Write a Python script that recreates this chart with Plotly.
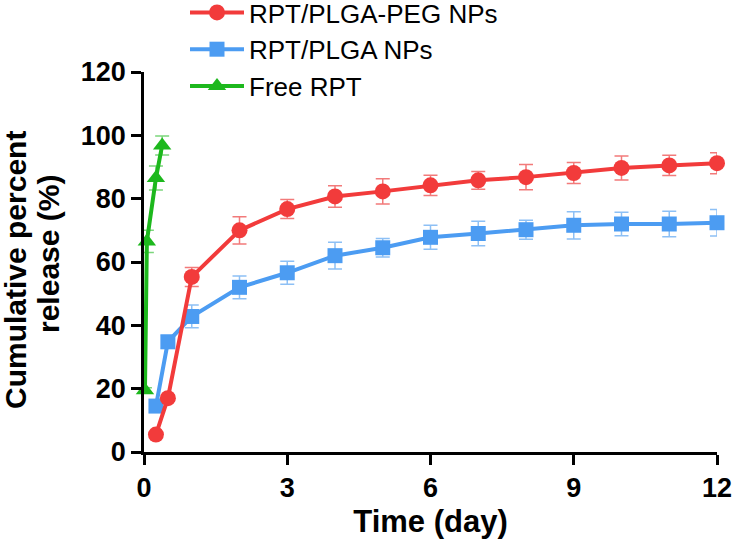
import plotly.graph_objects as go

# Data
t_free = [0.02, 0.06, 0.25, 0.38]
y_free = [19.5, 66.5, 86.5, 96.8]
e_free = [0.8, 3.5, 3.8, 3.0]

t_np = [0.25, 0.5, 1, 2, 3, 4, 5, 6, 7, 8, 9, 10, 11, 12]
y_peg = [5.5, 17.0, 55.3, 70.0, 76.7, 80.7, 82.3, 84.2, 85.8, 86.8, 88.1, 89.7, 90.5, 91.2]
e_peg = [0.8, 1.0, 3.0, 4.3, 3.0, 3.4, 4.0, 3.2, 2.8, 4.0, 3.3, 3.8, 3.2, 3.3]
y_plga = [14.5, 34.8, 42.8, 52.0, 56.6, 62.0, 64.5, 67.8, 69.0, 70.2, 71.6, 72.0, 72.0, 72.4]
e_plga = [1.0, 2.0, 3.6, 3.6, 3.6, 4.2, 2.9, 3.8, 3.9, 3.0, 4.3, 3.7, 4.0, 4.2]

x_ticks = [0, 3, 6, 9, 12]
y_ticks = [0, 20, 40, 60, 80, 100, 120]
y_title_lines = ["Cumulative percent", "release (%)"]

RED = "#F23B3B"
BLUE = "#4C9CF2"
GREEN = "#1DB81D"
FONT = "Liberation Sans, Arial"

W, H = 735, 551
L, R, T, B = 144, 18, 72, 99
PW, PH = W - L - R, H - T - B

fig = go.Figure()

fig.add_trace(go.Scatter(
    x=t_np, y=y_plga, name="RPT/PLGA NPs", legendrank=2,
    mode="lines+markers",
    line=dict(color=BLUE, width=4),
    marker=dict(symbol="square", size=15, color=BLUE),
    error_y=dict(type="data", array=e_plga, color="#8DC0F5", thickness=1.5, width=7),
    cliponaxis=False,
))
fig.add_trace(go.Scatter(
    x=t_np, y=y_peg, name="RPT/PLGA-PEG NPs", legendrank=1,
    mode="lines+markers",
    line=dict(color=RED, width=4),
    marker=dict(symbol="circle", size=16, color=RED),
    error_y=dict(type="data", array=e_peg, color="#F27A7A", thickness=1.5, width=7),
    cliponaxis=False,
))
fig.add_trace(go.Scatter(
    x=t_free, y=y_free, name="Free RPT", legendrank=3,
    mode="lines+markers",
    line=dict(color=GREEN, width=4),
    marker=dict(symbol="triangle-up", size=16, color=GREEN),
    error_y=dict(type="data", array=e_free, color="#7CD67C", thickness=1.5, width=7),
    cliponaxis=False,
))

axis_common = dict(
    showline=True, linecolor="black", linewidth=2.5,
    ticks="outside", ticklen=10, tickwidth=2.5, tickcolor="black",
    showgrid=False, zeroline=False,
    tickfont=dict(family=FONT, size=27, color="black", weight="bold"),
)

fig.update_xaxes(
    range=[0, 12], tickvals=x_ticks, ticktext=[str(v) for v in x_ticks],
    title=dict(text="<b>Time (day)</b>", font=dict(family=FONT, size=31, color="black"), standoff=9),
    **axis_common,
)
fig.update_yaxes(
    range=[0, 120], tickvals=y_ticks, ticktext=[str(v) for v in y_ticks],
    **axis_common,
)

# two-line rotated y-axis title
for line_text, cx, cy in zip(y_title_lines, [15, 49], [270, 254]):
    fig.add_annotation(
        text="<b>" + line_text + "</b>", textangle=-90,
        xref="paper", yref="paper",
        x=(cx - L) / PW, y=1 - (cy - T) / PH, xanchor="center", yanchor="middle",
        showarrow=False, font=dict(family=FONT, size=30, color="black"),
    )

fig.update_layout(
    width=W, height=H,
    margin=dict(l=L, r=R, t=T, b=B, autoexpand=False),
    paper_bgcolor="white", plot_bgcolor="white",
    showlegend=True,
    legend=dict(
        x=(185 - L) / PW, xanchor="left",
        y=1 + (T + 11) / PH, yanchor="top",
        font=dict(family=FONT, size=26, color="black"),
        itemwidth=54, bgcolor="rgba(0,0,0,0)", traceorder="normal",
        borderwidth=0,
    ),
)

fig.write_html("out.html", config={"displayModeBar": False},
               post_script="document.body.style.margin='0px';")
